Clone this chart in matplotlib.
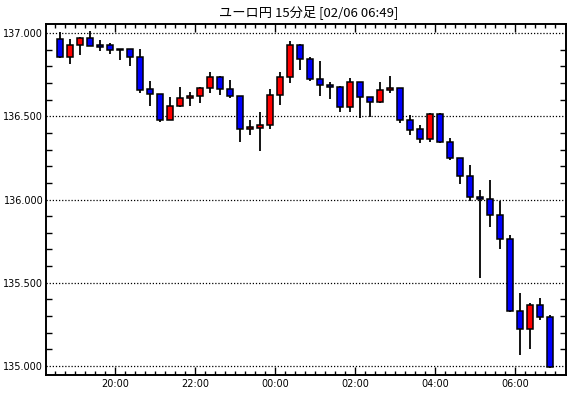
import numpy as np
import matplotlib
matplotlib.use("Agg")
import matplotlib.pyplot as plt
from matplotlib.ticker import MultipleLocator, FixedLocator

# 15-minute bars, 18:30 .. 06:45
opens = [136.962, 136.854, 136.926, 136.970, 136.926, 136.926, 136.902, 136.902, 136.854, 136.662,
         136.632, 136.476, 136.560, 136.608, 136.620, 136.668, 136.734, 136.662, 136.620, 136.422,
         136.431, 136.446, 136.626, 136.734, 136.926, 136.842, 136.726, 136.686, 136.674, 136.554,
         136.704, 136.614, 136.584, 136.656, 136.668, 136.476, 136.422, 136.362, 136.512, 136.344,
         136.247, 136.139, 136.013, 136.004, 135.905, 135.761, 135.329, 135.220, 135.365, 135.293]
closes = [136.854, 136.926, 136.970, 136.920, 136.918, 136.896, 136.898, 136.854, 136.660, 136.632,
          136.476, 136.560, 136.608, 136.620, 136.668, 136.734, 136.662, 136.620, 136.422, 136.435,
          136.446, 136.626, 136.734, 136.926, 136.842, 136.726, 136.686, 136.674, 136.554, 136.704,
          136.614, 136.584, 136.656, 136.668, 136.476, 136.419, 136.362, 136.512, 136.344, 136.247,
          136.139, 136.013, 136.001, 135.905, 135.761, 135.329, 135.220, 135.365, 135.293, 134.992]
highs = [137.006, 136.962, 136.976, 137.010, 136.956, 136.940, 136.902, 136.902, 136.902, 136.712,
         136.632, 136.616, 136.676, 136.644, 136.674, 136.764, 136.744, 136.718, 136.620, 136.477,
         136.527, 136.662, 136.766, 136.952, 136.932, 136.856, 136.832, 136.704, 136.680, 136.728,
         136.704, 136.614, 136.704, 136.742, 136.668, 136.506, 136.446, 136.518, 136.518, 136.369,
         136.247, 136.205, 136.055, 136.115, 135.989, 135.785, 135.437, 135.377, 135.407, 135.305]
lows = [136.850, 136.816, 136.870, 136.920, 136.894, 136.876, 136.840, 136.804, 136.638, 136.563,
        136.464, 136.476, 136.554, 136.560, 136.578, 136.638, 136.626, 136.608, 136.347, 136.389,
        136.293, 136.425, 136.570, 136.698, 136.780, 136.714, 136.620, 136.602, 136.527, 136.524,
        136.488, 136.494, 136.578, 136.638, 136.458, 136.386, 136.338, 136.344, 136.338, 136.235,
        136.091, 135.989, 135.527, 135.837, 135.701, 135.323, 135.065, 135.100, 135.275, 134.986]
time_labels = ["20:00", "22:00", "00:00", "02:00", "04:00", "06:00"]
label_bars = [6, 14, 22, 30, 38, 46]   # bar index where each label hour starts
price_levels = [135.0, 135.5, 136.0, 136.5, 137.0]

opens = np.array(opens); closes = np.array(closes)
highs = np.array(highs); lows = np.array(lows)
x = np.arange(len(opens))

fig = plt.figure(figsize=(5.7, 3.98), dpi=100)
ax = fig.add_axes([46/570, 1 - 375/398, 520/570, 351/398])

for p in price_levels:
    ax.axhline(p, color="black", lw=0.9, ls=(0, (1, 1.5)), zorder=1)

up = closes >= opens
colors = np.where(up, "#ff0000", "#0000ff")
ax.vlines(x, lows, highs, color="black", lw=1.3, zorder=2)
ax.bar(x, np.abs(closes - opens), bottom=np.minimum(opens, closes), width=0.65,
       color=colors, edgecolor="black", linewidth=1.1, zorder=3)

ax.set_xlim(-1.4, 50.6)
ax.set_ylim(134.946, 137.054)

ax.yaxis.set_major_locator(FixedLocator(price_levels))
ax.yaxis.set_minor_locator(MultipleLocator(0.1))
ax.set_yticklabels(["%.3f" % p for p in price_levels])

ax.xaxis.set_major_locator(FixedLocator([b - 0.5 for b in label_bars]))
ax.xaxis.set_minor_locator(FixedLocator(np.arange(-0.5, 50.5, 1.0)))
ax.set_xticklabels(time_labels)

ax.tick_params(axis="both", which="both", direction="in", top=True, right=True,
               colors="black", labelsize=7)
ax.tick_params(axis="x", which="major", length=6, width=1, pad=3)
ax.tick_params(axis="x", which="minor", length=3, width=1)
ax.tick_params(axis="y", which="major", length=0, pad=2)
ax.tick_params(axis="y", which="minor", length=4, width=1)

for s in ax.spines.values():
    s.set_linewidth(1.4)
    s.set_color("black")

fig.text(309/570, 1 - 12/398, "ユーロ円 15分足 [02/06 06:49]",
         ha="center", va="center", fontsize=9.5,
         family=["Noto Sans CJK JP", "DejaVu Sans"])

fig.savefig("out.png", dpi=100)
